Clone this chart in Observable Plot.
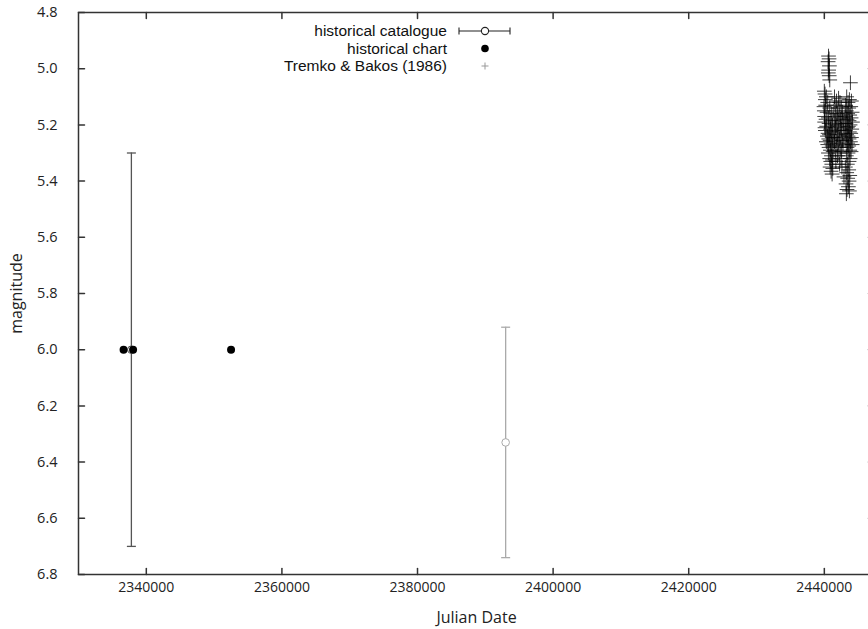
<!DOCTYPE html>
<html><head><meta charset="utf-8">
<script src="https://cdn.jsdelivr.net/npm/d3@7"></script>
<script src="https://cdn.jsdelivr.net/npm/@observablehq/plot@0.6"></script>
<style>
html,body{margin:0;padding:0;background:#fff;overflow:hidden;}
#wrap{position:relative;width:868px;height:629px;overflow:hidden;}
#wrap svg{display:block;max-width:none !important;}
#legend{position:absolute;left:0;top:0;}
</style></head><body><div id="wrap"></div>
<script>
const xTicks = [2340000, 2360000, 2380000, 2400000, 2420000, 2440000];
const yTicks = [4.8, 5.0, 5.2, 5.4, 5.6, 5.8, 6.0, 6.2, 6.4, 6.6, 6.8];

const catalogueJD = [2337800, 2393000];
const catalogueMag = [6.0, 6.33];
const catalogueErr = [0.7, 0.41];

const chartJD = [2336650, 2338050, 2352500];
const chartMag = [6.0, 6.0, 6.0];

const tremkoJD = [
  2440620, 2440700, 2440560, 2440750, 2440640, 2440590, 2440720, 2440800,
  2440000, 2440100, 2440300, 2440150, 2440500, 2440200, 2439950, 2440800, 2440000, 2440400,
  2441100, 2440050, 2440600, 2440250, 2440950, 2440050, 2440700, 2441200, 2440350, 2440100,
  2440900, 2440150, 2441050, 2440550, 2440750, 2440450, 2441250, 2440650, 2440850, 2440300,
  2441000, 2440500, 2441150, 2440700, 2440900, 2441300, 2440600, 2441050, 2440800, 2441200,
  2440950, 2441100, 2440850, 2441250, 2441000, 2441150,
  2441500, 2442100, 2441800, 2442300, 2441600, 2442500, 2442000, 2441400, 2442700, 2441900,
  2442200, 2441700, 2442600, 2442400, 2441550, 2442050, 2442800, 2441850, 2442350, 2441650,
  2442550, 2442150, 2441450, 2442900, 2441950, 2442450, 2441750, 2442250, 2442650, 2441500,
  2442050, 2442750, 2441850, 2442350, 2441600, 2442550, 2442150, 2441950, 2442450, 2441700,
  2442250, 2442600,
  2443850, 2443300, 2443700, 2444000, 2443500, 2443150, 2443900, 2443600, 2443250, 2444100,
  2443450, 2443750, 2443050, 2443950, 2443350, 2443650, 2444150, 2443200, 2443800, 2443550,
  2443400, 2444050, 2443100, 2443700, 2443900, 2443300, 2443500, 2444000, 2443650, 2443200,
  2443850, 2443450, 2444100, 2443600, 2443350, 2443750, 2443950, 2443500, 2443250, 2443800,
  2443650, 2443400,
  2443100, 2443600, 2443300, 2443750, 2442900, 2443450, 2443650, 2443200, 2443550, 2443350,
  2443700, 2443250
];
const tremkoMag = [
  4.955, 4.965, 4.975, 4.99, 5.005, 5.015, 5.025, 5.04,
  5.08, 5.09, 5.10, 5.11, 5.12, 5.13, 5.135, 5.14, 5.15, 5.155,
  5.16, 5.17, 5.175, 5.18, 5.185, 5.19, 5.195, 5.20, 5.205, 5.21,
  5.215, 5.22, 5.225, 5.23, 5.235, 5.24, 5.245, 5.25, 5.255, 5.26,
  5.265, 5.27, 5.275, 5.28, 5.29, 5.295, 5.30, 5.31, 5.32, 5.325,
  5.33, 5.34, 5.35, 5.355, 5.365, 5.375,
  5.10, 5.105, 5.115, 5.12, 5.13, 5.135, 5.14, 5.15, 5.155, 5.16,
  5.165, 5.17, 5.175, 5.18, 5.185, 5.19, 5.195, 5.20, 5.205, 5.21,
  5.215, 5.22, 5.225, 5.23, 5.235, 5.24, 5.245, 5.25, 5.255, 5.26,
  5.265, 5.27, 5.275, 5.28, 5.29, 5.295, 5.30, 5.31, 5.32, 5.33,
  5.34, 5.35,
  5.05, 5.10, 5.11, 5.115, 5.12, 5.13, 5.135, 5.14, 5.15, 5.155,
  5.16, 5.165, 5.17, 5.175, 5.18, 5.185, 5.19, 5.195, 5.20, 5.205,
  5.21, 5.215, 5.22, 5.225, 5.23, 5.235, 5.24, 5.245, 5.25, 5.255,
  5.26, 5.265, 5.27, 5.275, 5.28, 5.29, 5.295, 5.30, 5.31, 5.32,
  5.33, 5.34,
  5.35, 5.36, 5.37, 5.38, 5.385, 5.39, 5.40, 5.41, 5.42, 5.43,
  5.435, 5.445
];

const legendLabels = ["historical catalogue", "historical chart", "Tremko & Bakos (1986)"];

const catalogue = catalogueJD.map((x, i) => ({x, y: catalogueMag[i], lo: catalogueMag[i] - catalogueErr[i], hi: catalogueMag[i] + catalogueErr[i], i}));
const chart = chartJD.map((x, i) => ({x, y: chartMag[i]}));
const tremko = tremkoJD.map((x, i) => ({x, y: tremkoMag[i]}));

const font = "'Open Sans', sans-serif";
const legendFont = "'Liberation Sans', Arial, sans-serif";
const barColor = d => d.i === 0 ? "#555" : "#aaa";

// custom shapes
const tickShape = {draw(context, l) { context.moveTo(0, 0); context.lineTo(0, -l); }};
const capSymbol = {draw(context, size) { const r = Math.sqrt(size / Math.PI); context.moveTo(-r, 0); context.lineTo(r, 0); }};

const axisColor = "#333";
const plot = Plot.plot({
  width: 875, height: 629,
  marginLeft: 78, marginRight: 1, marginTop: 12, marginBottom: 55,
  style: {fontFamily: font, fontSize: "14px", color: "#222", background: "#fff", overflow: "visible"},
  x: {domain: [2330000, 2447400]},
  y: {domain: [6.8, 4.8]},
  marks: [
    Plot.vector(xTicks, {x: d => d, frameAnchor: "bottom", anchor: "start", length: 6, rotate: 0, shape: tickShape, stroke: axisColor}),
    Plot.vector(xTicks, {x: d => d, frameAnchor: "top", anchor: "start", length: 6, rotate: 180, shape: tickShape, stroke: axisColor}),
    Plot.vector(yTicks, {y: d => d, frameAnchor: "left", anchor: "start", length: 6, rotate: 90, shape: tickShape, stroke: axisColor}),
    Plot.vector(yTicks, {y: d => d, frameAnchor: "right", anchor: "start", length: 6, rotate: -90, shape: tickShape, stroke: axisColor}),
    Plot.axisX({ticks: xTicks, anchor: "bottom", tickSize: 0, tickPadding: 8, tickFormat: d => String(d), fontSize: 14,
      label: null}),
    Plot.axisY({ticks: yTicks, anchor: "left", tickSize: 0, tickPadding: 21, tickFormat: d => d.toFixed(1), fontSize: 14.5,
      label: null}),
    Plot.axisX({ticks: [], anchor: "bottom", tickSize: 0, fontSize: 16,
      label: "Julian Date", labelAnchor: "center", labelOffset: 48, labelArrow: "none"}),
    Plot.axisY({ticks: [], anchor: "left", tickSize: 0, fontSize: 16,
      label: "magnitude", labelAnchor: "center", labelOffset: 68, labelArrow: "none"}),
    Plot.frame({stroke: axisColor, strokeWidth: 1.5}),
    Plot.ruleX(catalogue, {x: "x", y1: "lo", y2: "hi", stroke: barColor, strokeWidth: 1.3}),
    Plot.dot(catalogue, {x: "x", y: "lo", symbol: capSymbol, r: 4.5, stroke: barColor, strokeWidth: 1.3}),
    Plot.dot(catalogue, {x: "x", y: "hi", symbol: capSymbol, r: 4.5, stroke: barColor, strokeWidth: 1.3}),
    Plot.dot(catalogue, {x: "x", y: "y", r: 3.8, fill: "#fff", stroke: barColor, strokeWidth: 1}),
    Plot.dot(chart, {x: "x", y: "y", r: 4, fill: "#000", stroke: "none"}),
    Plot.dot(tremko, {x: "x", y: "y", symbol: "plus", r: 4.8, stroke: "#000", strokeOpacity: 0.75, strokeWidth: 1})
  ]
});
document.getElementById("wrap").appendChild(plot);

// legend overlay (inside the plot frame, top)
const lg = d3.select("#wrap").append("svg").attr("id", "legend").attr("width", 868).attr("height", 90)
  .style("font-family", legendFont).style("font-size", "15.5px");
const rowY = [31, 48.5, 66];
const textRight = 447, symX = 485;
legendLabels.forEach((t, i) => {
  lg.append("text").attr("x", textRight).attr("y", rowY[i]).attr("dy", "0.35em").attr("text-anchor", "end").attr("fill", "#111").text(t);
});
const g0 = lg.append("g").attr("stroke", "#222").attr("stroke-width", 1.1).attr("fill", "none");
g0.append("line").attr("x1", 459).attr("x2", 510).attr("y1", rowY[0]).attr("y2", rowY[0]);
g0.append("line").attr("x1", 459).attr("x2", 459).attr("y1", rowY[0] - 3.5).attr("y2", rowY[0] + 3.5);
g0.append("line").attr("x1", 510).attr("x2", 510).attr("y1", rowY[0] - 3.5).attr("y2", rowY[0] + 3.5);
g0.append("circle").attr("cx", symX).attr("cy", rowY[0]).attr("r", 3.6).attr("fill", "#fff");
lg.append("circle").attr("cx", symX).attr("cy", rowY[1]).attr("r", 3.8).attr("fill", "#000");
const g2 = lg.append("g").attr("stroke", "#999").attr("stroke-width", 1);
g2.append("line").attr("x1", symX - 3.5).attr("x2", symX + 3.5).attr("y1", rowY[2]).attr("y2", rowY[2]);
g2.append("line").attr("x1", symX).attr("x2", symX).attr("y1", rowY[2] - 3.5).attr("y2", rowY[2] + 3.5);
</script>
</body></html>
